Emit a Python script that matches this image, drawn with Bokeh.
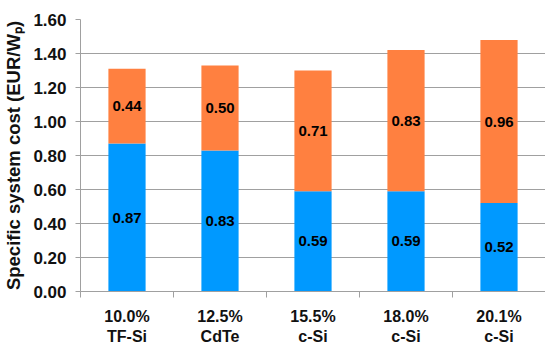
from bokeh.plotting import figure
from bokeh.models import Range1d, FixedTicker, ColumnDataSource, LabelSet
from bokeh.core.properties import value
from bokeh.embed import file_html
from bokeh.resources import INLINE

categories = ["10.0%\nTF-Si", "12.5%\nCdTe", "15.5%\nc-Si", "18.0%\nc-Si", "20.1%\nc-Si"]
blue_vals = [0.87, 0.83, 0.59, 0.59, 0.52]
orange_vals = [0.44, 0.50, 0.71, 0.83, 0.96]
y_ticks = [0.0, 0.2, 0.4, 0.6, 0.8, 1.0, 1.2, 1.4, 1.6]

BLUE = "#0099FF"
ORANGE = "#FF8040"
GRID = "#A0A0A0"
FONT = "Liberation Sans"

n = len(categories)
xc = [i + 0.5 for i in range(n)]
totals = [b + o for b, o in zip(blue_vals, orange_vals)]

src = ColumnDataSource(dict(
    x=xc, blue=blue_vals, orange=orange_vals, total=totals,
    blue_mid=[b / 2 for b in blue_vals],
    orange_mid=[b + o / 2 for b, o in zip(blue_vals, orange_vals)],
    blue_txt=[f"{b:.2f}" for b in blue_vals],
    orange_txt=[f"{o:.2f}" for o in orange_vals],
))

p = figure(width=545, height=354, output_backend="svg", toolbar_location=None,
           x_range=Range1d(0, n), y_range=Range1d(0, 1.6),
           min_border_left=78, min_border_right=0, min_border_top=19, min_border_bottom=63)
p.outline_line_color = None
p.background_fill_color = "white"

p.vbar(x="x", bottom=0, top="blue", width=0.4, color=BLUE, line_color=None, source=src)
p.vbar(x="x", bottom="blue", top="total", width=0.4, color=ORANGE, line_color=None, source=src)

for col_y, col_t in (("blue_mid", "blue_txt"), ("orange_mid", "orange_txt")):
    p.add_layout(LabelSet(x="x", y=col_y, text=col_t, source=src,
                          text_align="center", text_baseline="middle",
                          text_font=value(FONT), text_font_style="bold",
                          text_font_size="15px", text_color="#000000"))

# y axis
p.yaxis.ticker = FixedTicker(ticks=y_ticks)
p.yaxis.major_label_overrides = {t: f"{t:.2f}" for t in y_ticks}
p.yaxis.axis_line_color = GRID
p.yaxis.major_tick_line_color = GRID
p.yaxis.major_tick_in = 0
p.yaxis.major_tick_out = 5
p.yaxis.minor_tick_line_color = None
p.yaxis.major_label_text_font = FONT
p.yaxis.major_label_text_font_style = "bold"
p.yaxis.major_label_text_font_size = "17px"
p.yaxis.major_label_text_color = "#111111"
p.yaxis.major_label_standoff = 9
p.yaxis.axis_label = "Specific system cost (EUR/W\u209a)"
p.yaxis.axis_label_text_font = FONT
p.yaxis.axis_label_text_font_style = "bold"
p.yaxis.axis_label_text_font_size = "18.5px"
p.yaxis.axis_label_text_color = "#111111"
p.yaxis.axis_label_standoff = 6

p.ygrid.grid_line_color = GRID
p.ygrid.grid_line_width = 1
p.xgrid.grid_line_color = None

# x axis
p.xaxis.ticker = FixedTicker(ticks=xc, minor_ticks=list(range(n + 1)))
p.xaxis.major_label_overrides = {x: c for x, c in zip(xc, categories)}
p.xaxis.axis_line_color = GRID
p.xaxis.major_tick_line_color = None
p.xaxis.major_tick_in = 0
p.xaxis.major_tick_out = 0
p.xaxis.minor_tick_line_color = GRID
p.xaxis.minor_tick_in = 0
p.xaxis.minor_tick_out = 6
p.xaxis.major_label_text_font = FONT
p.xaxis.major_label_text_font_style = "bold"
p.xaxis.major_label_text_font_size = "16px"
p.xaxis.major_label_text_color = "#111111"
p.xaxis.major_label_standoff = 10

open("out.html", "w").write(file_html(p, INLINE))
